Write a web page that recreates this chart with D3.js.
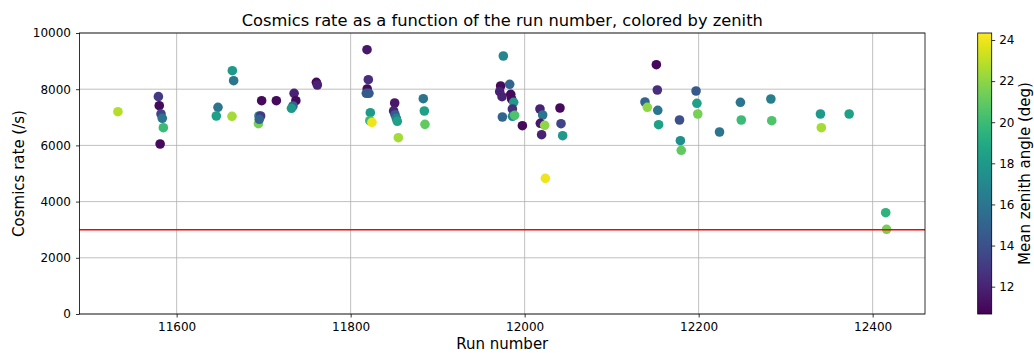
<!DOCTYPE html>
<html><head><meta charset="utf-8">
<script src="https://cdn.jsdelivr.net/npm/d3@7"></script>
<style>body{margin:0;background:#fff;} text{font-family:"DejaVu Sans",sans-serif;fill:#000;}</style>
</head><body>
<svg id="c" width="1034" height="353"></svg>
<script>
const runs = [11532.5,11579,11580,11582,11583.5,11584.7,11581,11664,11665.5,11647.5,11645.6,11663.6,11697.7,11714.6,11694.6,11694,11696.5,11695,
11735,11737,11733.7,11732,11760.6,11761.7,11818.8,11820.3,11819,11818,11821,11822.6,11822,11824.5,11850.6,11849.4,11851,11852.5,11853.6,11854.8,11883.5,11884.7,11885.4,
11975.5,11972.4,11982.8,11971.3,11974,11984,11985,11987.4,11985.9,11974.4,11986,11988.5,11997.4,12017.6,12020.7,12018,12023,12019.5,12023.8,12040.6,12041.8,12043.7,
12151.4,12152.5,12138.3,12141,12153,12154,12178,12179,12180,12197,12198,12199,12224,12248,12249,12283,12284,12340,12341,12373,12415,12416];
const rates = [7199,7734,7413,7117,6964,6630,6050,8658,8302,7355,7046,7035,7590,7590,7046,6772,7046,6928,
7854,7590,7402,7320,8246,8149,9406,8338,8007,7854,7854,7164,6879,6821,7509,7224,7093,6964,6857,6274,7662,7224,6750,
9181,8114,8174,7911,7734,7818,7651,7534,7295,7011,7035,7071,6701,7295,7082,6786,6715,6381,4829,7331,6772,6345,
8872,7972,7544,7355,7249,6737,6904,6167,5826,7936,7498,7117,6477,7534,6904,7651,6879,7117,6630,7117,3605,3014];
const zenith = [22.8,13,11,13.5,16,20,11,18,16,16,18.5,22.5,11,11,17,21.5,13,15,
12,11,15,18,11,12,11.5,12.5,11,14.5,14.5,18,20,24,11.5,12,14.5,16.5,18.5,22.5,16,18.5,21,
17,11,15,12,12,11,11,18,12.5,15,17,20.5,11,12,16,11.5,22,12,24,11,13.5,18,
11,12.5,15,22,16,18.5,14,17.5,21,14.5,18.5,21.5,16,16,20,16.5,20.5,18,22.5,18.5,19.5,21.5];
const xTicks = [11600,11800,12000,12200,12400];
const yTicks = [0,2000,4000,6000,8000,10000];
const cTicks = [12,14,16,18,20,22,24];
const threshold = 3000;

const L=79.5,R=925,T=33,B=314;
const svg=d3.select("#c");
const xmin=d3.min(runs),xmax=d3.max(runs),pad=(xmax-xmin)*0.05;
const x=d3.scaleLinear().domain([xmin-pad,xmax+pad]).range([L,R]);
const y=d3.scaleLinear().domain([0,10000]).range([B,T]);
const cmin=10.67,cmax=24.34;
const color=d3.scaleSequential(d3.interpolateViridis).domain([cmin,cmax]);

const g=svg.append("g");
g.selectAll(".gx").data(xTicks).join("line").attr("x1",d=>x(d)).attr("x2",d=>x(d)).attr("y1",T).attr("y2",B).attr("stroke","#b0b0b0").attr("stroke-width",0.8);
g.selectAll(".gy").data(yTicks).join("line").attr("y1",d=>y(d)).attr("y2",d=>y(d)).attr("x1",L).attr("x2",R).attr("stroke","#b0b0b0").attr("stroke-width",0.8);

svg.append("g").selectAll("circle").data(runs.map((r,i)=>({r,v:rates[i],z:zenith[i]}))).join("circle")
 .attr("cx",d=>x(d.r)).attr("cy",d=>y(d.v)).attr("r",4.8).attr("fill",d=>color(d.z));

svg.append("line").attr("x1",L).attr("x2",R).attr("y1",y(threshold)).attr("y2",y(threshold)).attr("stroke","#ff0000").attr("stroke-width",1.6);

const xa=svg.append("g").attr("transform",`translate(0,${B})`).call(d3.axisBottom(x).tickValues(xTicks).tickFormat(d3.format("d")).tickSizeOuter(0).tickSize(3.5).tickPadding(5));
const ya=svg.append("g").attr("transform",`translate(${L},0)`).call(d3.axisLeft(y).tickValues(yTicks).tickFormat(d3.format("d")).tickSizeOuter(0).tickSize(3.5).tickPadding(5));
[xa,ya].forEach(a=>{a.select(".domain").remove();a.selectAll("text").style("font-size","12px").attr("fill","#000");a.selectAll("line").attr("stroke","#000").attr("stroke-width",0.8);});
svg.append("rect").attr("x",L).attr("y",T).attr("width",R-L).attr("height",B-T).attr("fill","none").attr("stroke","#000").attr("stroke-width",0.8);

svg.append("text").attr("x",(L+R)/2).attr("y",26).attr("text-anchor","middle").style("font-size","16.3px").text("Cosmics rate as a function of the run number, colored by zenith");
svg.append("text").attr("x",(L+R)/2).attr("y",349).attr("text-anchor","middle").style("font-size","15px").text("Run number");
svg.append("text").attr("transform",`translate(24,${(T+B)/2}) rotate(-90)`).attr("text-anchor","middle").style("font-size","15px").text("Cosmics rate (/s)");

const CL=977.7,CR=991.7;
const cy=d3.scaleLinear().domain([cmin,cmax]).range([B,T]);
const defs=svg.append("defs");
const grad=defs.append("linearGradient").attr("id","vg").attr("x1",0).attr("x2",0).attr("y1",1).attr("y2",0);
d3.range(0,1.0001,0.05).forEach(t=>grad.append("stop").attr("offset",t).attr("stop-color",d3.interpolateViridis(t)));
svg.append("rect").attr("x",CL).attr("y",T).attr("width",CR-CL).attr("height",B-T).attr("fill","url(#vg)").attr("stroke","#000").attr("stroke-width",0.8);
const ca=svg.append("g").attr("transform",`translate(${CR},0)`).call(d3.axisRight(cy).tickValues(cTicks).tickSize(3.5).tickPadding(4).tickSizeOuter(0));
ca.select(".domain").remove();ca.selectAll("text").style("font-size","12px").attr("fill","#000");ca.selectAll("line").attr("stroke","#000").attr("stroke-width",0.8);
svg.append("text").attr("transform",`translate(1030,${(T+B)/2}) rotate(-90)`).attr("text-anchor","middle").style("font-size","15px").text("Mean zenith angle (deg)");
</script>
</body></html>
